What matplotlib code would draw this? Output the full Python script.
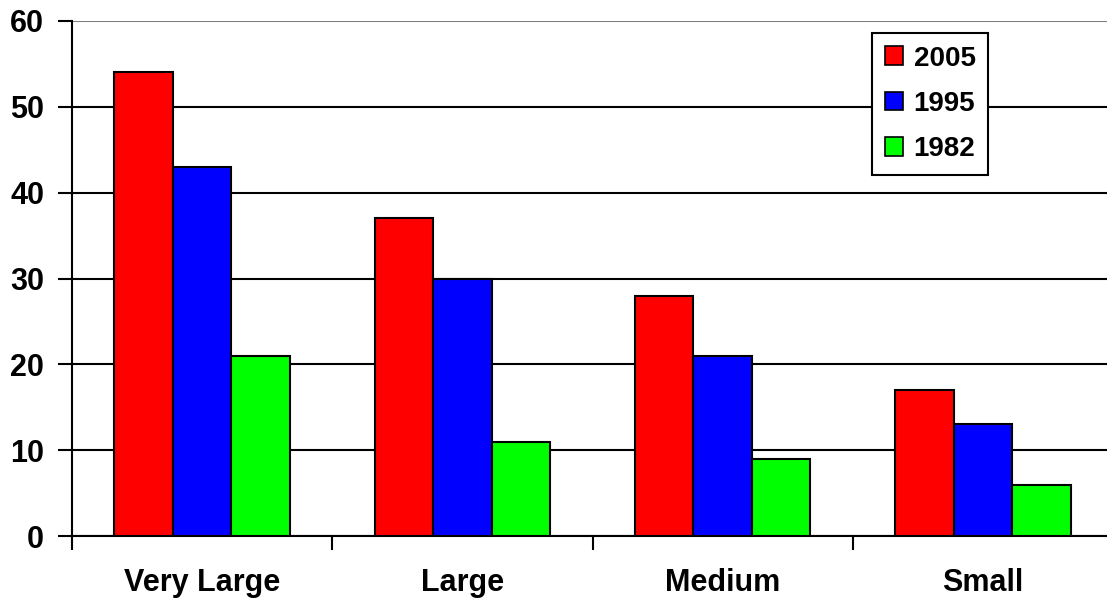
import numpy as np
import matplotlib
matplotlib.use("Agg")
import matplotlib.pyplot as plt

categories = ["Very Large", "Large", "Medium", "Small"]
years = ["2005", "1995", "1982"]
v2005 = [54, 37, 28, 17]
v1995 = [43, 30, 21, 13]
v1982 = [21, 11, 9, 6]
colors = ["#ff0000", "#0000ff", "#00ff00"]

plt.rcParams["font.family"] = ["Liberation Sans", "DejaVu Sans"]
plt.rcParams["font.weight"] = "bold"

fig = plt.figure(figsize=(11.07, 6.04), dpi=100)
ax = fig.add_axes([72 / 1107, (604 - 536) / 604, 1041 / 1107, 515 / 604])

x = np.arange(len(categories))
w = 0.225
for k, (vals, c, lab) in enumerate(zip([v2005, v1995, v1982], colors, years)):
    ax.bar(x + (k - 1) * w, vals, w, color=c, edgecolor="black", linewidth=1.5,
           label=lab, zorder=3)

ax.set_xlim(-0.5, 3.5)
ax.set_ylim(0, 60)
ax.set_yticks(range(0, 61, 10))
ax.yaxis.grid(True, color="black", linewidth=1.5, zorder=0)
ax.get_ygridlines()[-1].set_color("#808080")
ax.set_axisbelow(True)
ax.tick_params(axis="y", labelsize=22, width=1.5, length=10, pad=10)

ax.set_xticks(x)
ax.set_xticklabels(categories, fontsize=22, fontweight="bold")
ax.tick_params(axis="x", which="major", length=0, pad=23)
ax.set_xticks(np.arange(-0.5, 4.0, 1.0), minor=True)
ax.tick_params(axis="x", which="minor", length=10, width=1.5)

for s in ["top", "right"]:
    ax.spines[s].set_visible(False)
for s in ["left", "bottom"]:
    ax.spines[s].set_linewidth(1.5)

leg = ax.legend(loc="upper left", bbox_to_anchor=(800 / 1041, 503 / 515),
                borderaxespad=0, prop={"weight": "bold", "size": 20},
                frameon=True, fancybox=False, shadow=False,
                handlelength=0.65, handleheight=0.65, handletextpad=0.4,
                labelspacing=0.7, borderpad=0.45)
leg.get_frame().set_edgecolor("black")
leg.get_frame().set_linewidth(1.5)
leg.get_frame().set_alpha(1)
for h in leg.legend_handles:
    h.set_linewidth(1.2)

fig.savefig("out.png", dpi=100)
